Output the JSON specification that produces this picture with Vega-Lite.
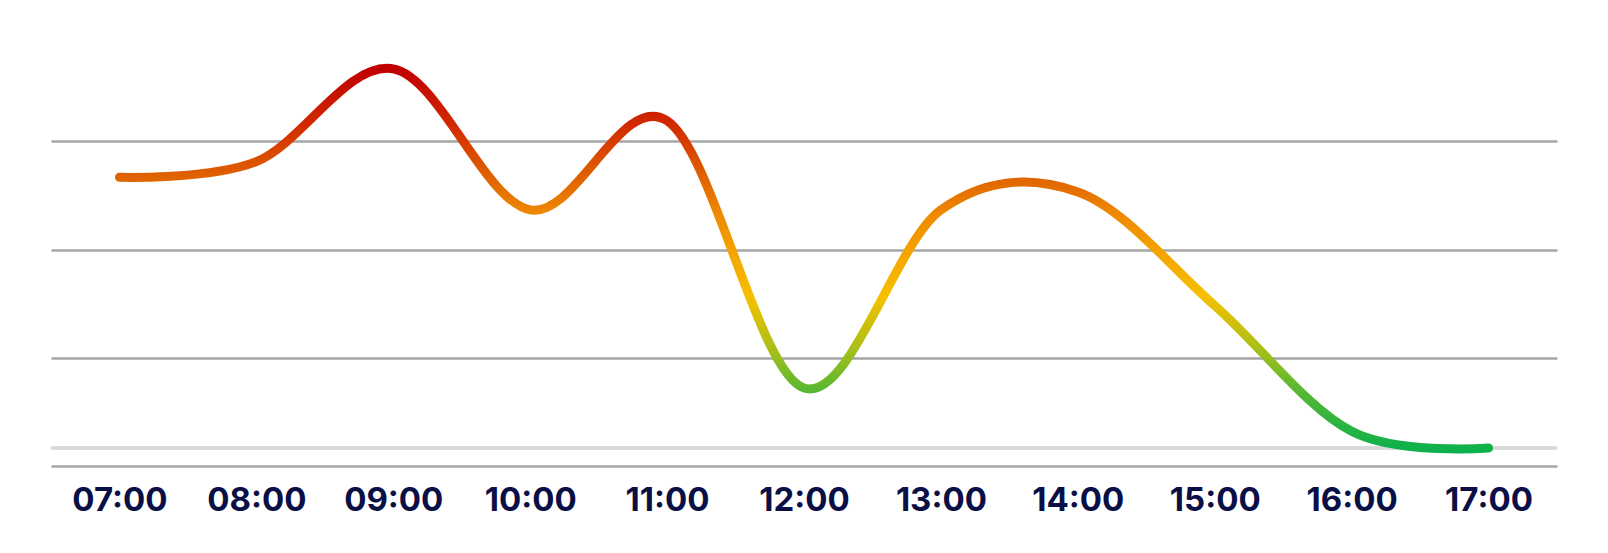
{
  "$schema": "https://vega.github.io/schema/vega-lite/v6.json",
  "width": 1506,
  "height": 433,
  "autosize": "none",
  "padding": {"left": 51, "top": 33, "right": 51, "bottom": 87},
  "background": "white",
  "config": {"view": {"stroke": null}},
  "data": {"values": [
    {"time": "07:00", "value": 2.667},
    {"time": "08:00", "value": 2.812},
    {"time": "09:00", "value": 3.669},
    {"time": "10:00", "value": 2.366},
    {"time": "11:00", "value": 3.189},
    {"time": "12:00", "value": 0.721},
    {"time": "13:00", "value": 2.366},
    {"time": "14:00", "value": 2.532},
    {"time": "15:00", "value": 1.482},
    {"time": "16:00", "value": 0.32},
    {"time": "17:00", "value": 0.166}
  ]},
  "layer": [
    {
      "mark": {"type": "rule", "color": "#d9d9d9", "strokeWidth": 2.5},
      "encoding": {"y": {"datum": 0.166, "type": "quantitative"}}
    },
    {
      "mark": {
        "type": "line",
        "interpolate": "cardinal",
        "tension": 0,
        "strokeWidth": 9,
        "strokeCap": "round",
        "strokeJoin": "round",
        "color": {
          "gradient": "linear",
          "x1": 0, "y1": 0, "x2": 0, "y2": 1,
          "stops": [
            {"offset": 0, "color": "#c00000"},
            {"offset": 0.15, "color": "#d22a00"},
            {"offset": 0.29, "color": "#e06400"},
            {"offset": 0.38, "color": "#ee8800"},
            {"offset": 0.5, "color": "#f5a800"},
            {"offset": 0.6, "color": "#f5c000"},
            {"offset": 0.72, "color": "#b4c014"},
            {"offset": 0.84, "color": "#5cb832"},
            {"offset": 1, "color": "#0db14b"}
          ]
        }
      },
      "encoding": {
        "x": {
          "field": "time",
          "type": "ordinal",
          "sort": null,
          "scale": {"type": "point", "padding": 0.5},
          "axis": {
            "title": null,
            "labelAngle": 0,
            "ticks": false,
            "tickSize": 0,
            "domainColor": "#a6a6a6",
            "domainWidth": 2.5,
            "labelFont": "Inter",
            "labelFontWeight": "bold",
            "labelFontSize": 33,
            "labelColor": "#0a0f46",
            "labelBaseline": "alphabetic",
            "labelPadding": 44.7,
            "grid": false
          }
        },
        "y": {
          "field": "value",
          "type": "quantitative",
          "scale": {"domain": [0, 4], "nice": false},
          "axis": {
            "title": null,
            "labels": false,
            "ticks": false,
            "domain": false,
            "values": [1, 2, 3],
            "grid": true,
            "gridColor": "#a6a6a6",
            "gridWidth": 2.5
          }
        }
      }
    }
  ]
}
